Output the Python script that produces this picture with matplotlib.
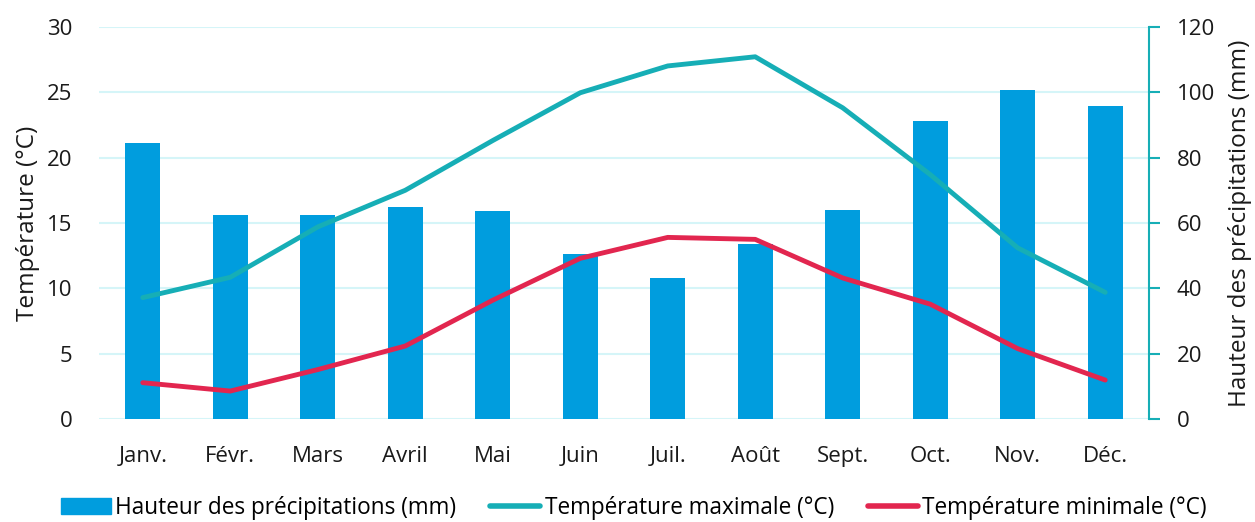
import numpy as np
import matplotlib.pyplot as plt
from matplotlib.lines import Line2D
from matplotlib.patches import Patch

plt.rcParams['font.family'] = ['Open Sans', 'DejaVu Sans']

mois = ['Janv.', 'Févr.', 'Mars', 'Avril', 'Mai', 'Juin',
        'Juil.', 'Août', 'Sept.', 'Oct.', 'Nov.', 'Déc.']
precip = [84.4, 62.5, 62.4, 64.9, 63.7, 50.5, 43.3, 53.7, 63.9, 91.1, 100.6, 95.7]
t_max = [9.3, 10.85, 14.7, 17.5, 21.3, 24.95, 27.0, 27.7, 23.8, 18.7, 13.1, 9.7]
t_min = [2.8, 2.16, 3.8, 5.6, 9.1, 12.3, 13.9, 13.75, 10.8, 8.8, 5.4, 3.0]

c_bar = '#009DDE'
c_max = '#16AEB6'
c_min = '#E2264F'
c_grid = '#D5F5F8'
c_txt = '#1a1a1a'

fig = plt.figure(figsize=(12.55, 5.22), dpi=100)
ax = fig.add_axes([0.0789, 0.1967, 0.8366, 0.7522])
ax2 = ax.twinx()

x = np.arange(len(mois))

# precipitation bars on the right axis
ax2.bar(x, precip, width=0.4, color=c_bar, zorder=2)
ax2.set_ylim(0, 120)
ax2.set_yticks(np.arange(0, 121, 20))

# temperatures on the left axis (drawn on top)
ax.set_zorder(ax2.get_zorder() + 1)
ax.patch.set_visible(False)
ax.plot(x, t_max, color=c_max, lw=3.5, solid_capstyle='round', solid_joinstyle='round')
ax.plot(x, t_min, color=c_min, lw=3.5, solid_capstyle='round', solid_joinstyle='round')
ax.set_ylim(0, 30)
ax.set_yticks(np.arange(0, 31, 5))
ax.set_xlim(-0.5, 11.5)
ax.set_xticks(x)
ax.set_xticklabels(mois)

for y in np.arange(0, 121, 20):
    ax2.axhline(y, color=c_grid, lw=1.5, zorder=0)

for a in (ax, ax2):
    for s in a.spines.values():
        s.set_visible(False)

ax2.spines['right'].set_visible(True)
ax2.spines['right'].set_color(c_max)
ax2.spines['right'].set_linewidth(1.5)
ax2.tick_params(axis='y', colors=c_max, length=8, width=1.5, labelsize=16, pad=12, labelcolor=c_txt)
ax.tick_params(axis='y', length=0, labelsize=16, pad=19, labelcolor=c_txt)
ax.tick_params(axis='x', length=0, labelsize=16, pad=19, labelcolor=c_txt)

ax.set_ylabel('Température (°C)', fontsize=17.5, color=c_txt)
ax.yaxis.set_label_coords(-0.056, 0.5)
ax2.set_ylabel('Hauteur des précipitations (mm)', fontsize=17.5, color=c_txt)
ax2.yaxis.set_label_coords(1.075, 0.5)

handles = [
    Patch(color=c_bar, label='Hauteur des précipitations (mm)'),
    Line2D([0], [0], color=c_max, lw=4, solid_capstyle='round', label='Température maximale (°C)'),
    Line2D([0], [0], color=c_min, lw=4, solid_capstyle='round', label='Température minimale (°C)'),
]
fig.legend(handles=handles, loc='lower center', bbox_to_anchor=(0.505, -0.035), ncol=3,
           frameon=False, fontsize=16.3, handlelength=2.2, handletextpad=0.2, columnspacing=1.5)

fig.savefig('out.png', dpi=100)
